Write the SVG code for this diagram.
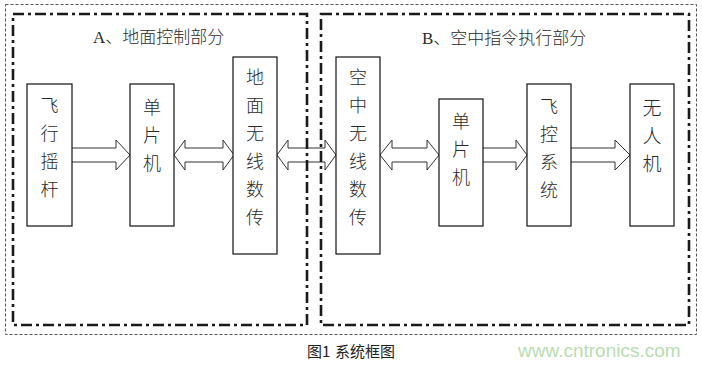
<svg xmlns="http://www.w3.org/2000/svg" width="702" height="365" viewBox="0 0 702 365">
<style>
.outer{fill:none;stroke:#555;stroke-width:1;stroke-dasharray:3 2}
.part{fill:none;stroke:#1a1a1a;stroke-width:2.6;stroke-dasharray:11 4 3 4}
.box{fill:#fff;stroke:#111;stroke-width:1.2}
.arr{fill:none;stroke:#333;stroke-width:1}
.t{font-family:"Liberation Serif","Noto Sans CJK SC",serif;font-size:18px;font-weight:300;fill:#2a2a2a;text-anchor:middle;dominant-baseline:central}
.title{font-family:"Liberation Serif","Noto Sans CJK SC",serif;font-size:17px;font-weight:300;fill:#2a2a2a}
.cap{font-family:"Noto Sans CJK SC","Liberation Sans",sans-serif;font-size:15px;fill:#222}
.wm{font-family:"Liberation Sans",Arial,sans-serif;font-size:19px;fill:#b9dcb2}
</style>
<rect width="702" height="365" fill="#fff"/>
<rect class="outer" x="5.5" y="4.5" width="691" height="330"/>
<g id="connectors">
<path class="arr" d="M72,148 H116 V140 L130,155 L116,170 V162 H72"/>
<path class="arr" d="M174,155 L185,140 V148 H223 V140 L234,155 L223,170 V162 H185 V170 Z"/>
<path class="arr" d="M277,155 L288,140 V148 H325 V140 L336,155 L325,170 V162 H288 V170 Z"/>
<path class="arr" d="M380,155 L392,140 V148 H427 V140 L439,155 L427,170 V162 H392 V170 Z"/>
<path class="arr" d="M483,148 H516 V140 L527,155 L516,170 V162 H483"/>
<path class="arr" d="M571,148 H615 V140 L630,155 L615,170 V162 H571"/>
</g>
<g id="partA">
<rect class="part" x="13" y="14" width="294" height="311"/>
<text class="title" x="93" y="43">A、地面控制部分</text>
</g>
<g id="partB">
<rect class="part" x="321" y="14" width="368" height="311"/>
<text class="title" x="422" y="44">B、空中指令执行部分</text>
</g>
<g id="joystick">
<rect class="box" x="27" y="84" width="45" height="142"/>
<text class="t" x="49.5" y="106">飞</text><text class="t" x="49.5" y="134">行</text><text class="t" x="49.5" y="162">摇</text><text class="t" x="49.5" y="190">杆</text>
</g>
<g id="mcuA">
<rect class="box" x="130" y="84" width="44" height="142"/>
<text class="t" x="152" y="108">单</text><text class="t" x="152" y="136">片</text><text class="t" x="152" y="164">机</text>
</g>
<g id="groundRadio">
<rect class="box" x="233" y="57" width="44" height="197"/>
<text class="t" x="255" y="78">地</text><text class="t" x="255" y="106">面</text><text class="t" x="255" y="134">无</text><text class="t" x="255" y="162">线</text><text class="t" x="255" y="190">数</text><text class="t" x="255" y="218">传</text>
</g>
<g id="airRadio">
<rect class="box" x="336" y="57" width="44" height="197"/>
<text class="t" x="358" y="78">空</text><text class="t" x="358" y="106">中</text><text class="t" x="358" y="134">无</text><text class="t" x="358" y="162">线</text><text class="t" x="358" y="190">数</text><text class="t" x="358" y="218">传</text>
</g>
<g id="mcuB">
<rect class="box" x="439" y="99" width="44" height="127"/>
<text class="t" x="461" y="122">单</text><text class="t" x="461" y="150">片</text><text class="t" x="461" y="178">机</text>
</g>
<g id="flightCtrl">
<rect class="box" x="527" y="84" width="44" height="142"/>
<text class="t" x="549" y="107">飞</text><text class="t" x="549" y="135">控</text><text class="t" x="549" y="163">系</text><text class="t" x="549" y="191">统</text>
</g>
<g id="uav">
<rect class="box" x="630" y="84" width="44" height="142"/>
<text class="t" x="652" y="108" style="font-size:19px">无</text><text class="t" x="652" y="136" style="font-size:19px">人</text><text class="t" x="652" y="164" style="font-size:19px">机</text>
</g>
<text class="cap" x="307" y="357">图1<tspan x="335">系统框图</tspan></text>
<text class="wm" x="518" y="357">www.cntronics.com</text>
</svg>
